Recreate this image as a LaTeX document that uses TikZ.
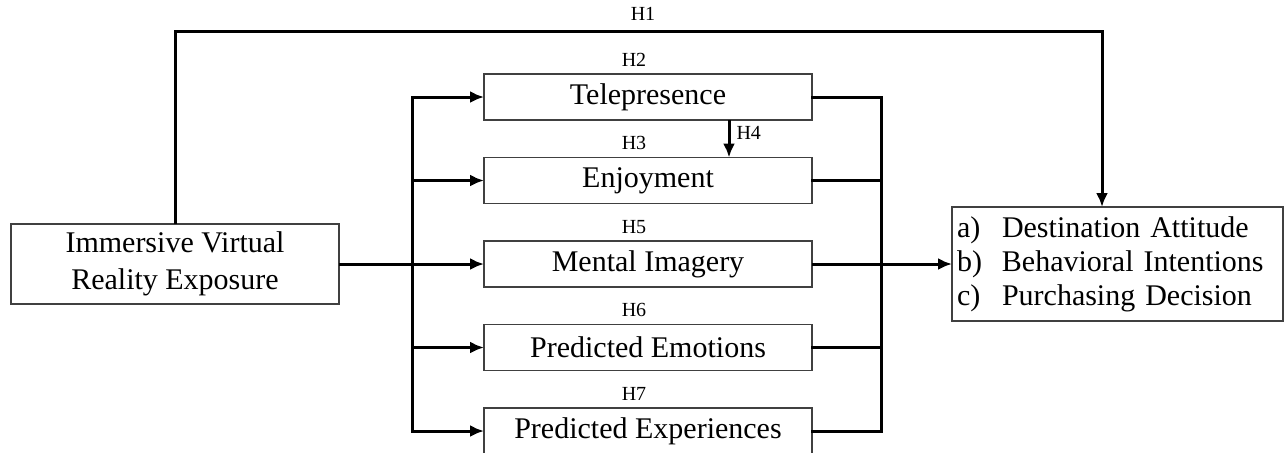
\documentclass[tikz,border=0pt]{standalone}
\usepackage{fontspec}
\setmainfont{Liberation Serif}
\usetikzlibrary{arrows.meta,positioning,calc}
\tikzset{
    bloque/.style={rectangle,draw=black!75,line width=0.6pt,outer sep=0pt,minimum width=164pt,minimum height=23pt,inner sep=0pt,font=\fontsize{15}{18.5}\selectfont},
    entrada/.style={bloque,minimum height=40pt,align=center},
    salida/.style={rectangle,draw=black!75,line width=0.6pt,outer sep=0pt,text width=160.5pt,inner xsep=2.5pt,minimum height=57pt,align=left,font=\fontsize{15}{17}\selectfont},
    hipotesis/.style={font=\fontsize{10}{12}\selectfont,inner sep=1pt},
    flecha/.style={draw,line width=1.5pt,-{Latex[length=7pt,width=6pt]}},
    linea/.style={draw,line width=1.5pt,line cap=rect},
}
\newcommand{\inciso}[1]{\makebox[22.5pt][l]{#1}}

\begin{document}
\begin{tikzpicture}[x=0.5pt,y=-0.5pt]
\useasboundingbox (0,0) rectangle (1285,452);
\node[entrada] (ivr) at (175,264) {Immersive Virtual\\Reality Exposure};
\node[bloque] (tele) at (648,97) {Telepresence};
\node[bloque,below=18.75pt of tele] (enjoy) {Enjoyment};
\node[bloque,below=18.75pt of enjoy] (mental) {Mental Imagery};
\node[bloque,below=18.75pt of mental] (emoc) {Predicted Emotions};
\node[bloque,below=18.75pt of emoc] (exper) {Predicted Experiences};
\node[salida] (result) at (1117.5,264) {\inciso{a)}Destination Attitude\\\inciso{b)}Behavioral Intentions\\\inciso{c)}Purchasing Decision};

\node[hipotesis] (h1) at (643,14) {H1};
\node[hipotesis,above=2.5pt of tele,xshift=-7pt] (h2) {H2};
\node[hipotesis,above=2.5pt of enjoy,xshift=-7pt] (h3) {H3};
\node[hipotesis,above=2.5pt of mental,xshift=-7pt] (h5) {H5};
\node[hipotesis,above=2.5pt of emoc,xshift=-7pt] (h6) {H6};
\node[hipotesis,above=2.5pt of exper,xshift=-7pt] (h7) {H7};

\coordinate (izq) at (412,0);
\coordinate (der) at (881,0);
\coordinate (codo) at (1102,31);
\coordinate (h4x) at (729,0);

\draw[flecha] (ivr.north) |- (codo) -- (codo |- result.north);
\draw[flecha] (ivr.east) -- (mental.west);
\draw[linea] (izq |- tele) -- (izq |- exper);
\foreach \b in {tele,enjoy,emoc,exper}
    \draw[flecha] (izq |- \b) -- (\b.west);
\draw[flecha] (tele.south -| h4x) -- (enjoy.north -| h4x) node[hipotesis,pos=0.35,right=2pt] (h4) {H4};
\draw[linea] (tele.east) -- (der |- tele) -- (der |- exper) -- (exper.east);
\foreach \b in {enjoy,emoc}
    \draw[linea] (\b.east) -- (der |- \b);
\draw[flecha] (mental.east) -- (result.west);
\end{tikzpicture}
\end{document}
